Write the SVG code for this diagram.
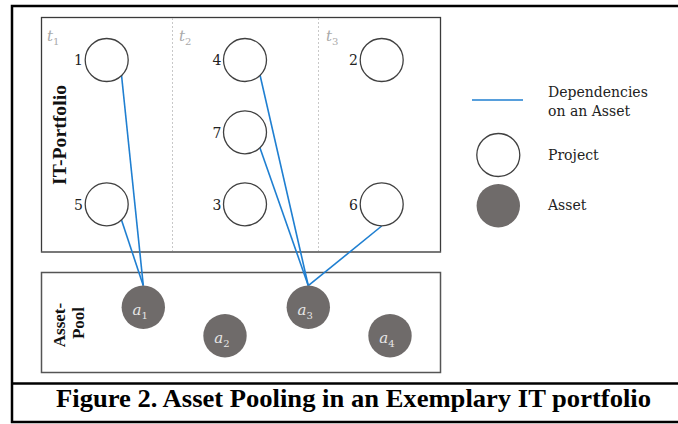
<svg xmlns="http://www.w3.org/2000/svg" width="678" height="424" viewBox="0 0 678 424">
<style>
.frame{fill:none;stroke:#000;stroke-width:2.5}
.box{fill:none;stroke:#3a3a3a;stroke-width:1.3}
.div{stroke:#c8c8c8;stroke-width:1;stroke-dasharray:2 2}
.proj{fill:#fff;stroke:#404040;stroke-width:1.3}
.asset{fill:#6f6b6a}
.dep{stroke:#1f7fd1;stroke-width:1.6;fill:none}
.num{font-family:"DejaVu Serif","Liberation Serif",serif;font-size:14px;fill:#222;text-anchor:end}
.leg{font-family:"DejaVu Serif","Liberation Serif",serif;font-size:14px;fill:#222}
.t{font-family:"DejaVu Serif","Liberation Serif",serif;font-style:italic;font-size:15px;fill:#aaa}
.ts{font-family:"DejaVu Serif","Liberation Serif",serif;font-size:10px;fill:#aaa}
.a{font-family:"DejaVu Serif","Liberation Serif",serif;font-style:italic;font-size:15px;fill:#e6e6e6}
.as{font-family:"DejaVu Serif","Liberation Serif",serif;font-size:10px;fill:#e6e6e6}
.side{font-family:"Liberation Serif",serif;font-weight:bold;font-size:17px;fill:#111;text-anchor:middle}
.cap{font-family:"Liberation Serif",serif;font-weight:bold;font-size:25px;fill:#000}
</style>
<rect class="frame" x="12" y="6" width="668" height="416"/>
<line class="frame" x1="12" y1="383.5" x2="680" y2="383.5"/>
<g id="it-portfolio">
<rect class="box" x="41.5" y="17.5" width="399" height="234.5"/>
<line x1="41.5" y1="252" x2="440.5" y2="252" stroke="#777" stroke-width="1.5"/>
<line class="div" x1="172.5" y1="18" x2="172.5" y2="251"/>
<line class="div" x1="318.5" y1="18" x2="318.5" y2="251"/>
<text class="side" style="font-size:19px" transform="translate(65.5,135) rotate(-90)" textLength="100" lengthAdjust="spacingAndGlyphs">IT-Portfolio</text>
<text class="t" x="47" y="41">t</text><text class="ts" x="53" y="44.5">1</text>
<text class="t" x="179" y="41">t</text><text class="ts" x="185" y="44.5">2</text>
<text class="t" x="326" y="41">t</text><text class="ts" x="332" y="44.5">3</text>
</g>
<g id="asset-pool">
<rect x="41.5" y="272.5" width="399" height="100" fill="none" stroke="#555" stroke-width="1.5"/>
<text class="side" transform="translate(65,325) rotate(-90)">Asset-</text>
<text class="side" transform="translate(84,323) rotate(-90)">Pool</text>
</g>
<g id="connectors">
<line class="dep" x1="121.5" y1="75" x2="143.3" y2="285.7"/>
<line class="dep" x1="121.5" y1="220" x2="143.3" y2="285.7"/>
<line class="dep" x1="260" y1="75" x2="308.3" y2="285.7"/>
<line class="dep" x1="260" y1="148" x2="308.3" y2="285.7"/>
<line class="dep" x1="381.7" y1="226" x2="308.3" y2="285.7"/>
</g>
<g id="p1"><circle class="proj" cx="106.7" cy="60" r="21.5"/><text class="num" x="83" y="65">1</text></g>
<g id="p5"><circle class="proj" cx="106.7" cy="204.3" r="21.5"/><text class="num" x="83" y="209.5">5</text></g>
<g id="p4"><circle class="proj" cx="245" cy="60" r="21.5"/><text class="num" x="221.5" y="65">4</text></g>
<g id="p7"><circle class="proj" cx="245" cy="132.3" r="21.5"/><text class="num" x="221.5" y="137.5">7</text></g>
<g id="p3"><circle class="proj" cx="245" cy="204.3" r="21.5"/><text class="num" x="221.5" y="209.5">3</text></g>
<g id="p2"><circle class="proj" cx="381.7" cy="60" r="21.5"/><text class="num" x="358" y="65">2</text></g>
<g id="p6"><circle class="proj" cx="381.7" cy="204.3" r="21.5"/><text class="num" x="358" y="209.5">6</text></g>
<g id="a1"><circle class="asset" cx="143.3" cy="307.3" r="21.7"/><text class="a" x="132.5" y="315">a</text><text class="as" x="141.5" y="318.5">1</text></g>
<g id="a2"><circle class="asset" cx="225" cy="335.7" r="21.7"/><text class="a" x="214.2" y="343.4">a</text><text class="as" x="223.2" y="346.9">2</text></g>
<g id="a3"><circle class="asset" cx="308.3" cy="307.3" r="21.7"/><text class="a" x="297.5" y="315">a</text><text class="as" x="306.5" y="318.5">3</text></g>
<g id="a4"><circle class="asset" cx="390" cy="335.7" r="21.7"/><text class="a" x="379.2" y="343.4">a</text><text class="as" x="388.2" y="346.9">4</text></g>
<g id="legend">
<line class="dep" x1="472" y1="100" x2="523" y2="100"/>
<text class="leg" x="548" y="97">Dependencies</text>
<text class="leg" x="548" y="115.5">on an Asset</text>
<circle class="proj" cx="498.3" cy="155" r="21.5"/>
<text class="leg" x="548" y="159.5">Project</text>
<circle class="asset" cx="498.3" cy="205.7" r="21.7"/>
<text class="leg" x="548" y="209.5">Asset</text>
</g>
<text class="cap" x="56" y="406.7" textLength="595" lengthAdjust="spacingAndGlyphs">Figure 2. Asset Pooling in an Exemplary IT portfolio</text>
</svg>
